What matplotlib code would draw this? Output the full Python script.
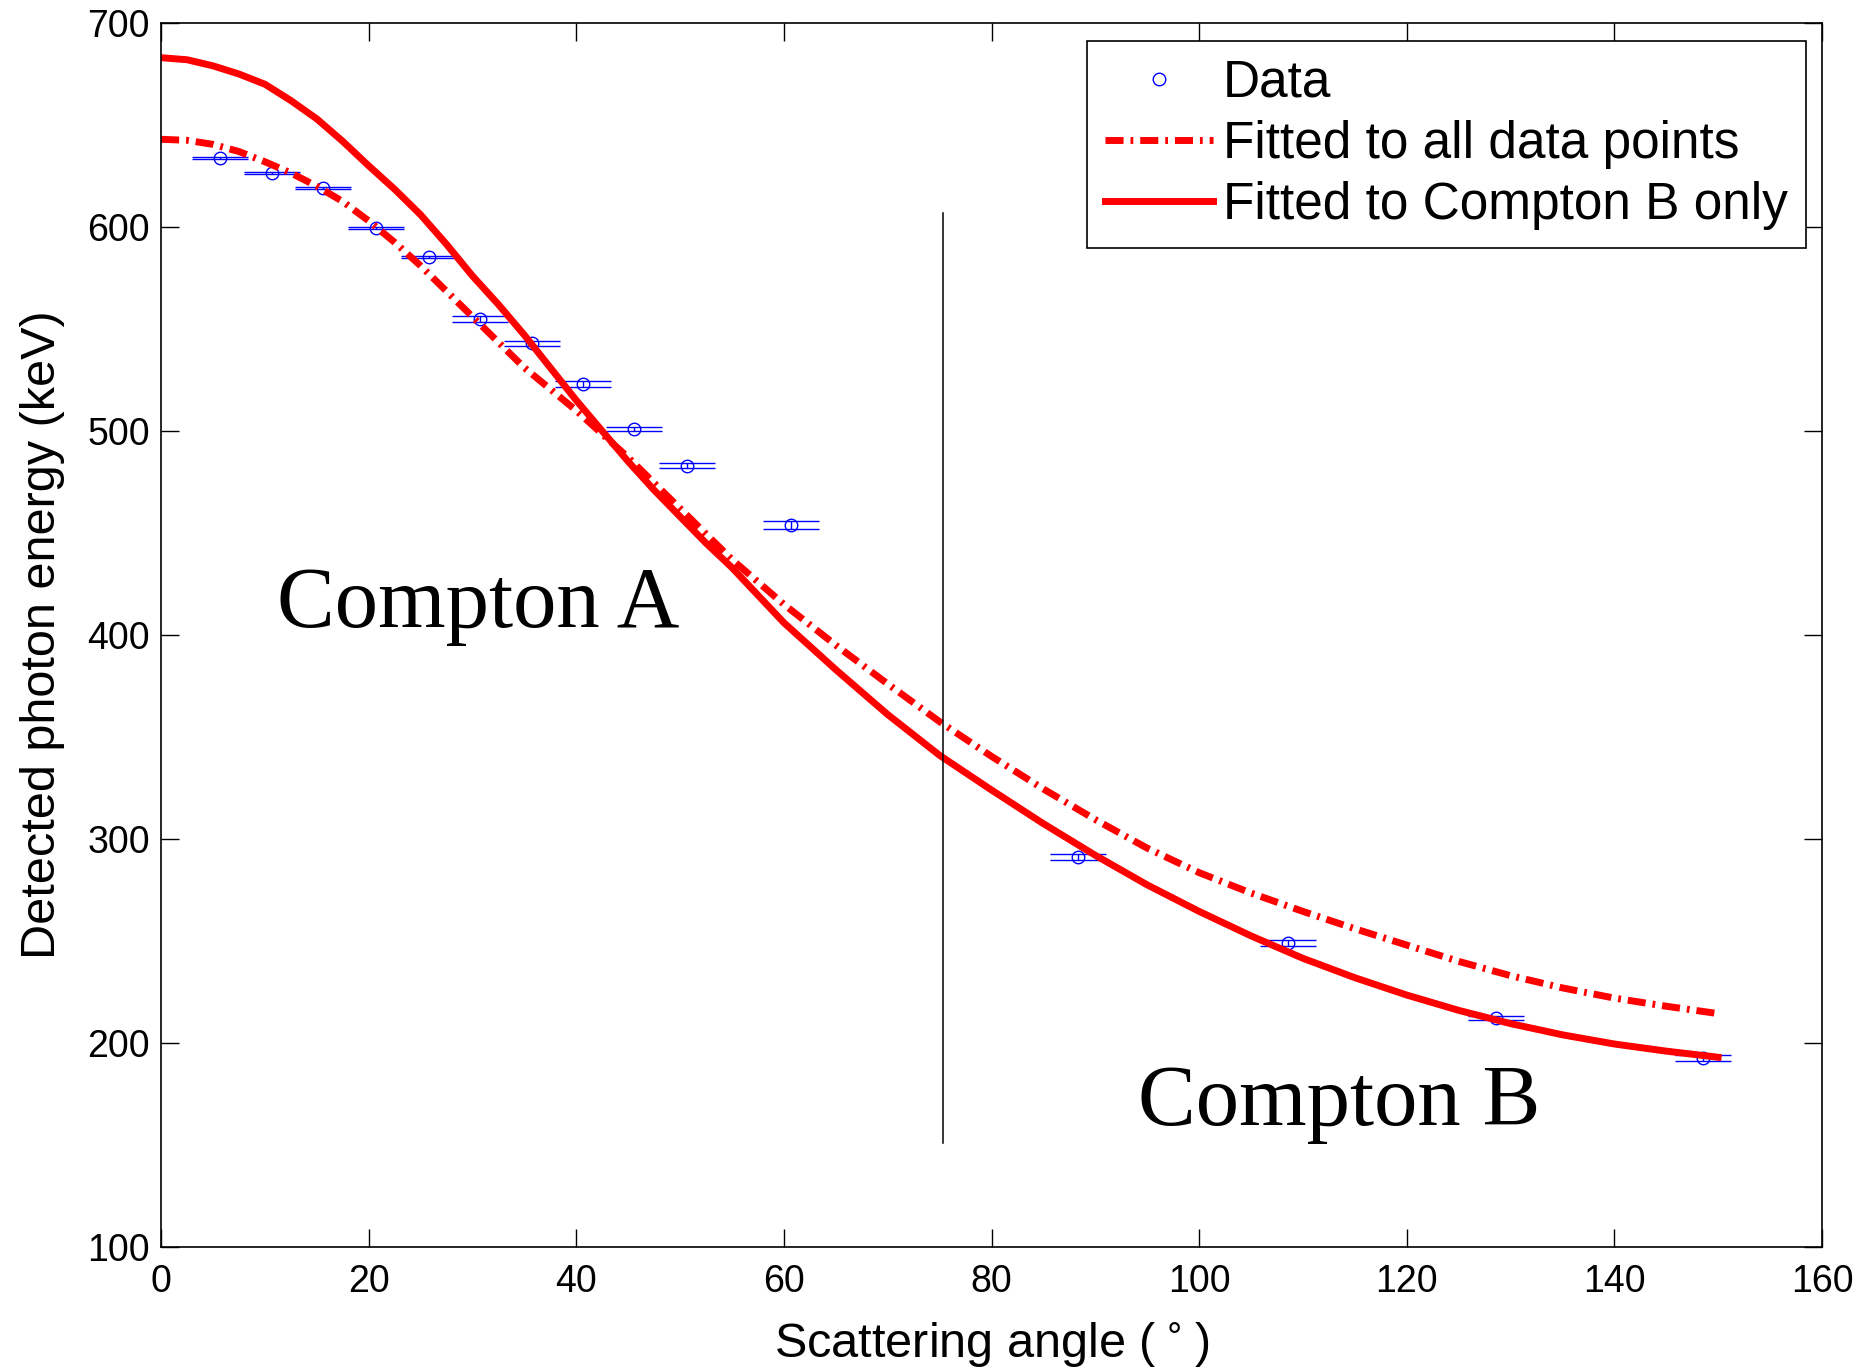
import numpy as np
import matplotlib
matplotlib.use('Agg')
import matplotlib.pyplot as plt

# measured photon energies (keV) vs scattering angle (deg)
angle = [5.7, 10.7, 15.6, 20.7, 25.8, 30.7, 35.7, 40.6, 45.6, 50.7, 60.7,
         88.3, 108.6, 128.6, 148.5]
energy = [633.7, 626.7, 619.0, 599.3, 585.4, 555.1, 543.0, 523.0, 501.0,
          483.0, 454.0, 291.0, 249.0, 212.3, 192.5]
energy_err = [0.5, 0.5, 0.5, 0.5, 0.5, 1.5, 1.2, 1.5, 1.2, 1.2, 2.0,
              1.5, 1.5, 1.0, 1.5]

# fitted curves (2.5 deg steps up to 60, then 5 deg)
fit_angle = [0, 2.5, 5, 7.5, 10, 12.5, 15, 17.5, 20, 22.5, 25, 27.5, 30,
             32.5, 35, 37.5, 40, 42.5, 45, 47.5, 50, 52.5, 55, 57.5, 60,
             65, 70, 75, 80, 85, 90, 95, 100, 105, 110, 115, 120, 125, 130,
             135, 140, 145, 150]
fit_all = [643, 642.5, 640.5, 637, 632, 626.5, 620, 612.5, 603, 592.5, 581,
           568.5, 556, 543.5, 531, 520.5, 510, 498.5, 487, 474.5, 462,
           449.5, 437, 426, 415,
           395, 376, 357.5, 340.5, 324.5, 309.5, 295.5, 283.5, 273.5, 264.5,
           256, 248, 240, 233, 227, 222, 218, 214.4]
fit_b = [683, 682, 679, 675, 670, 662, 653, 642, 630, 618.5, 606, 591.5,
         576, 562, 547, 531, 515, 500, 485, 471, 458, 445, 433, 419.5, 406,
         383, 361, 341, 324, 307.5, 292, 277.5, 264.5, 252.5, 241.5, 232,
         223.5, 216, 209.5, 204, 199.5, 196, 193]

# boundary between the two regions
split_angle = 75.35
split_range = [151, 607]

fig = plt.figure(figsize=(18.58, 13.70), dpi=100)
ax = fig.add_axes([0.0867, 0.0898, 0.8939, 0.8934])

ax.errorbar(angle, energy, yerr=energy_err, fmt='none', ecolor='b',
            elinewidth=1, capsize=20, capthick=1)
ax.plot(angle, energy, 'o', ms=9, mfc='none', mec='b', mew=1, label='Data')

ln, = ax.plot(fit_angle, fit_all, color='r', lw=5,
              label='Fitted to all data points')
ln.set_dashes((2.6, 1.0, 0.4, 1.0))
ax.plot(fit_angle, fit_b, color='r', lw=5, solid_joinstyle='round',
        label='Fitted to Compton B only')

ax.plot([split_angle, split_angle], split_range, color='k', lw=1.1)

ax.text(30.5, 414, 'Compton A', family='Liberation Serif', fontsize=62.5,
        ha='center', va='center')
ax.text(113.5, 170, 'Compton B', family='Liberation Serif', fontsize=62.5,
        ha='center', va='center')

ax.set_xlim(0, 160)
ax.set_ylim(100, 700)
ax.set_xticks(np.arange(0, 161, 20))
ax.set_yticks(np.arange(100, 701, 100))
ax.tick_params(direction='in', length=13, width=1, top=True, right=True,
               labelsize=27, labelfontfamily='Liberation Sans')
ax.tick_params(axis='x', pad=12)
ax.tick_params(axis='y', pad=8)
for s in ax.spines.values():
    s.set_linewidth(1.2)

ax.set_xlabel('Scattering angle ($\\,^{\\circ}\\,$)', fontsize=35,
              family='Liberation Sans', labelpad=15)
ax.set_ylabel('Detected photon energy (keV)', fontsize=35,
              family='Liberation Sans', labelpad=16)

leg = ax.legend(loc='upper right', bbox_to_anchor=(0.9904, 0.9853),
                borderaxespad=0, handlelength=2.1,
                handletextpad=0.2, labelspacing=0.23, borderpad=0.35,
                fancybox=False, framealpha=1, edgecolor='k',
                prop={'family': 'Liberation Sans', 'size': 37})
leg.get_frame().set_linewidth(1.2)

fig.savefig('out.png', dpi=100)
